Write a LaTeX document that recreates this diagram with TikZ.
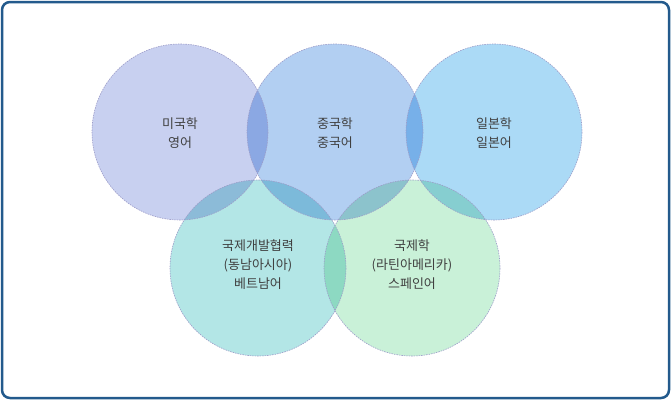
\documentclass[tikz,border=0pt]{standalone}
\usepackage{fontspec}
\setmainfont{Noto Sans CJK KR}
\begin{document}
\begin{tikzpicture}[x=1pt,y=-1pt,
  circ/.style={draw=gray!70!blue!60, dashed, line width=0.6pt, dash pattern=on 1.5pt off 1pt},
  lbl/.style={align=center, font=\fontsize{13}{19}\selectfont, text=black!75}]
\useasboundingbox (0,0) rectangle (671,400);
\draw[line width=2.5pt, draw={rgb,255:red,35;green,90;blue,140}, rounded corners=8pt, fill=white] (2,2) rectangle (669,398);
\definecolor{ca}{HTML}{C8D0F0}
\definecolor{cb}{HTML}{B2CFF2}
\definecolor{cc}{HTML}{ABDAF6}
\definecolor{cd}{HTML}{B3E6E6}
\definecolor{ce}{HTML}{C9F1D8}
\begin{scope}[blend group=multiply]
\fill[ca] (180,132) circle (88);
\fill[cb] (335,132) circle (88);
\fill[cc] (494,132) circle (88);
\fill[cd] (258,268) circle (88);
\fill[ce] (412,268) circle (88);
\end{scope}
\draw[circ] (180,132) circle (88);
\draw[circ] (335,132) circle (88);
\draw[circ] (494,132) circle (88);
\draw[circ] (258,268) circle (88);
\draw[circ] (412,268) circle (88);
\node[lbl] (a) at (180,133) {미국학\\영어};
\node[lbl] (b) at (335,133) {중국학\\중국어};
\node[lbl] (c) at (494,133) {일본학\\일본어};
\node[lbl] (d) at (258,265) {국제개발협력\\(동남아시아)\\베트남어};
\node[lbl] (e) at (412,265) {국제학\\(라틴아메리카)\\스페인어};
\end{tikzpicture}
\end{document}
